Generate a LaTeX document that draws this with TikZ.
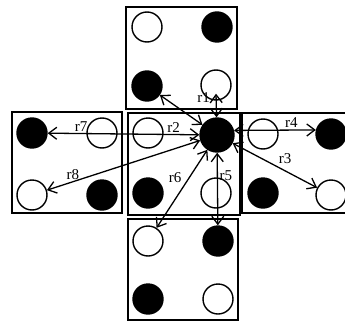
\documentclass[tikz,border=0pt]{standalone}
\usepackage{fontspec}
\setmainfont{Liberation Serif}
\usepackage{tikz}
\usetikzlibrary{calc, arrows.meta, positioning}

\tikzset{
  cell/.style={draw, line width=1.8pt},
  wball/.style={circle, draw, line width=1.4pt, minimum size=30pt, inner sep=0pt},
  bball/.style={circle, draw, fill, line width=1.4pt, minimum size=30pt, inner sep=0pt},
  move/.style={{Straight Barb[length=8pt,width=12pt]}-{Straight Barb[length=8pt,width=12pt]}, line width=1.3pt},
  rlab/.style={font=\fontsize{15}{17}\selectfont, inner sep=1.5pt}
}

\begin{document}
\begin{tikzpicture}[x=1pt, y=-1pt]
      \useasboundingbox (0,0) rectangle (345,324);
      % five cells of the cross
      \draw[cell] (126,7) rectangle (237,109);
      \draw[cell] (12,112) rectangle (122,213);
      \draw[cell] (128,113) rectangle (240,215);
      \draw[cell] (242,113) rectangle (352,213);
      \draw[cell] (128,219) rectangle (238,320);

      % top cell
      \node[wball] (t1) at (147,27) {};
      \node[bball] (t2) at (217,27) {};
      \node[bball] (t3) at (147,86) {};
      \node[wball] (t4) at (216,85) {};
      % left cell
      \node[bball] (l1) at (32,133) {};
      \node[wball] (l2) at (102,133) {};
      \node[wball] (l3) at (32,195) {};
      \node[bball] (l4) at (102,195) {};
      % centre cell
      \node[wball] (c1) at (148,133) {};
      \node[bball, minimum size=34pt] (c0) at (217,135) {};
      \node[bball] (c3) at (148,193) {};
      \node[wball] (c4) at (216,193) {};
      % right cell
      \node[wball] (e1) at (263,134) {};
      \node[bball] (e2) at (331,134) {};
      \node[bball] (e3) at (263,193) {};
      \node[wball] (e4) at (331,195) {};
      % bottom cell
      \node[wball] (b1) at (148,241) {};
      \node[bball] (b2) at (218,241) {};
      \node[bball] (b3) at (148,299) {};
      \node[wball] (b4) at (218,299) {};

      \draw[move] (c0) -- (t3);
      \draw[move] (c0) -- node[rlab, pos=0.85, left=4pt] {r1} ([yshift=7pt]t4.south);
      \draw[move] (c0) -- node[rlab, pos=0.17, above] {r2} node[rlab, pos=0.78, above] {r7} (l1);
      \draw[move] (c0) -- node[rlab, pos=0.83, above] {r8} (l3);
      \draw[move] (c0) -- node[rlab, pos=0.35, left=6pt] {r6} (b1);
      \draw[move] (c0) -- node[rlab, pos=0.31, right] {r5} (b2);
      \draw[move] (c0) -- node[rlab, pos=0.62, above=5pt] {r3} (e4);
      \draw[move] (c0.15) -- node[rlab, pos=0.7, above] {r4} (e2.165);
    \end{tikzpicture}
\end{document}
